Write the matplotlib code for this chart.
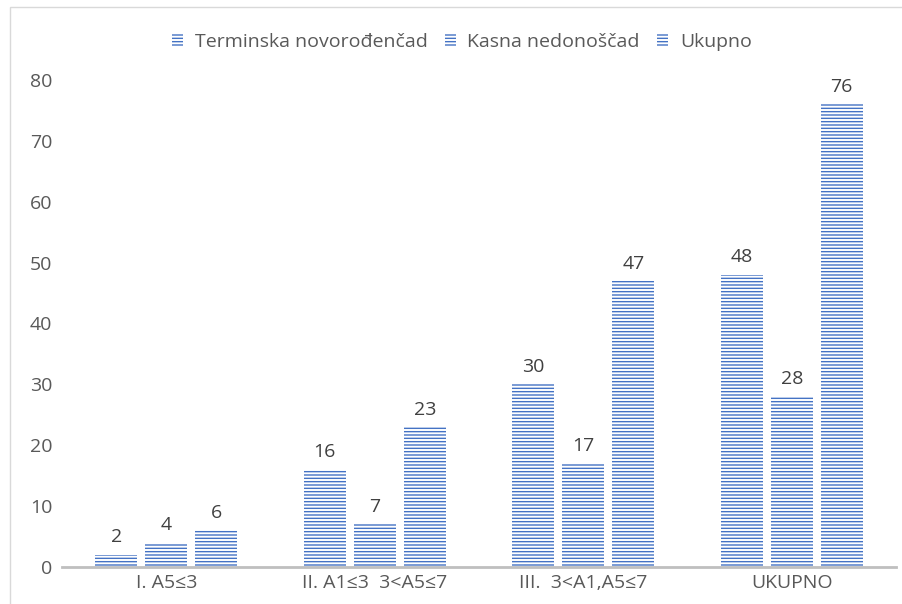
import matplotlib.pyplot as plt
import numpy as np
from matplotlib.patches import Rectangle

# Chart data
categories = ['I. A5≤3', 'II. A1≤3  3<A5≤7', 'III.  3<A1,A5≤7', 'UKUPNO']
series_names = ['Terminska novorođenčad', 'Kasna nedonoščad', 'Ukupno']
terminska = [2, 16, 30, 48]
kasna = [4, 7, 17, 28]
ukupno = [6, 23, 47, 76]
y_ticks = [0, 10, 20, 30, 40, 50, 60, 70, 80]


def main():
    plt.rcParams['font.family'] = ['Open Sans', 'DejaVu Sans']
    plt.rcParams['hatch.linewidth'] = 1.0
    plt.rcParams['hatch.color'] = '#4472C4'

    fig = plt.figure(figsize=(9.03, 6.04), dpi=100)
    ax = fig.add_axes([62 / 903, 1 - 567 / 604, 834 / 903, 487 / 604])

    # light border around the whole chart area
    fig.patches.append(Rectangle((10 / 903, -0.05), 1.0, 1 - 7 / 604 + 0.05,
                                 transform=fig.transFigure, fill=False,
                                 edgecolor='#D9D9D9', linewidth=1))

    x = np.arange(len(categories))
    width = 0.2
    offset = 0.24
    grey = '#595959'
    fs = 14

    for i, values in enumerate([terminska, kasna, ukupno]):
        bars = ax.bar(x + (i - 1) * offset, values, width, color='white',
                      edgecolor='#4472C4', linewidth=0, hatch='-----',
                      label=series_names[i])
        ax.bar_label(bars, padding=6, fontsize=fs, color='#404040')

    ax.set_xlim(-0.5, len(categories) - 0.5)
    ax.set_ylim(0, 80)
    ax.set_yticks(y_ticks)
    ax.set_xticks(x)
    ax.set_xticklabels(categories)
    ax.tick_params(axis='both', length=0, labelsize=fs, labelcolor=grey)
    ax.tick_params(axis='y', pad=7)
    ax.tick_params(axis='x', pad=5)

    for side in ['top', 'right', 'left']:
        ax.spines[side].set_visible(False)
    ax.spines['bottom'].set_color('#BFBFBF')
    ax.spines['bottom'].set_linewidth(2)

    leg = fig.legend(loc='center', bbox_to_anchor=(462 / 903, 1 - 42 / 604), ncol=3,
                     frameon=False, fontsize=fs, handlelength=0.55,
                     handleheight=0.6, handletextpad=0.6, columnspacing=0.9)
    for t in leg.get_texts():
        t.set_color(grey)

    fig.savefig('out.png', dpi=100)


if __name__ == '__main__':
    main()
